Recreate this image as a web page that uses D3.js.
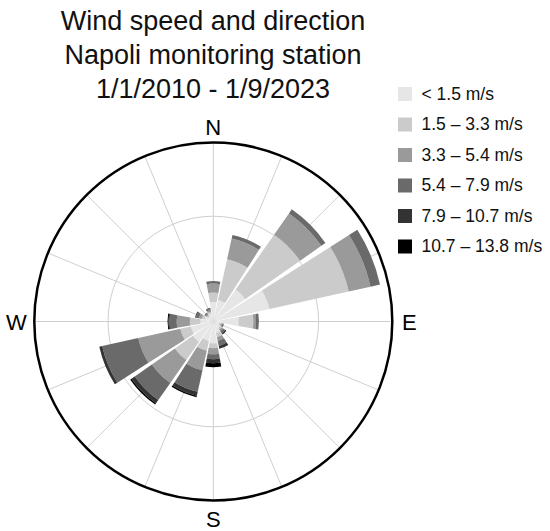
<!DOCTYPE html>
<html lang="en">
<head>
<meta charset="UTF-8">
<title>Wind rose</title>
<script src="https://cdn.jsdelivr.net/npm/d3@7"></script>
<style>
	body{margin:0;background:#fff;}
	svg{display:block;font-family:"Liberation Sans",Arial,sans-serif;}
</style>
</head>
<body>
<svg id="chart" width="550" height="531"></svg>
<script>
var titleLines = ["Wind speed and direction", "Napoli monitoring station", "1/1/2010 - 1/9/2023"];
var directions = ["N","NNE","NE","ENE","E","ESE","SE","SSE","S","SSW","SW","WSW","W","WNW","NW","NNW"];
var compass = ["N","E","S","W"];
var speedClasses = ["< 1.5 m/s","1.5 \u2013 3.3 m/s","3.3 \u2013 5.4 m/s","5.4 \u2013 7.9 m/s","7.9 \u2013 10.7 m/s","10.7 \u2013 13.8 m/s"];
var classColors = ["#e6e6e6","#cbcbcb","#9a9a9a","#6a6a6a","#333333","#000000"];

// frequency (%) per direction, one array per speed class
var below15 = [1.85,2.09,3.70,5.46,2.42,0.57,0.76,1.14,2.07,1.90,2.37,2.18,1.23,0.85,0.57,0.76];
var s15to33 = [0.90,3.96,6.36,7.71,1.38,0.19,0.19,0.38,0.47,0.95,2.09,1.04,1.00,0.28,0.19,0.19];
var s33to54 = [0.85,2.02,2.47,2.12,0.26,0.14,0.19,0.38,0.57,1.90,2.66,4.08,1.25,0.28,0.14,0.19];
var s54to79 = [0.24,0.35,0.47,0.93,0.28,0.14,0.24,0.47,0.47,2.09,1.99,3.51,0.69,0.28,0.14,0.14];
var s79to107 = [0,0,0,0,0,0,0.14,0.28,0.38,0.38,0.38,0.28,0.09,0.09,0,0.05];
var s107to138 = [0,0,0,0,0,0,0,0,0.38,0.14,0.14,0,0.09,0,0,0];
var gridValues = [10];
var maxValue = 17;

var series = [below15, s15to33, s33to54, s54to79, s79to107, s107to138];
var rows = directions.map(function(d, i){
	var o = {dir: d};
	series.forEach(function(s, k){ o["c" + k] = s[i]; });
	return o;
});
var keys = series.map(function(s, k){ return "c" + k; });

var svg = d3.select("#chart");
var cx = 213.3, cy = 321.5, R = 179;

var r = d3.scaleLinear().domain([0, maxValue]).range([0, R]);
var step = 2 * Math.PI / directions.length;
var pad = 0.11;
var x = d3.scaleBand()
	.domain(directions)
	.range([-step / 2, 2 * Math.PI - step / 2])
	.paddingInner(pad)
	.paddingOuter(pad / 2);

var g = svg.append("g").attr("transform", "translate(" + cx + "," + cy + ")");

// grid
g.selectAll(".spoke").data(directions).enter().append("line")
	.attr("x1", 0).attr("y1", 0)
	.attr("x2", function(d, i){ return R * Math.sin(i * step); })
	.attr("y2", function(d, i){ return -R * Math.cos(i * step); })
	.attr("stroke", "#cfcfcf").attr("stroke-width", 1);
g.selectAll(".ring").data(gridValues).enter().append("circle")
	.attr("r", function(d){ return r(d); })
	.attr("fill", "none").attr("stroke", "#cfcfcf").attr("stroke-width", 1);

// bars
var stacked = d3.stack().keys(keys)(rows);
var arc = d3.arc()
	.innerRadius(function(d){ return r(d[0]); })
	.outerRadius(function(d){ return r(d[1]); })
	.startAngle(function(d){ return x(d.data.dir); })
	.endAngle(function(d){ return x(d.data.dir) + x.bandwidth(); });

g.selectAll(".layer").data(stacked).enter().append("g")
	.attr("fill", function(d, i){ return classColors[i]; })
	.selectAll("path").data(function(d){ return d.filter(function(p){ return p[1] > p[0]; }); })
	.enter().append("path")
	.attr("d", arc);

// outer circle
g.append("circle").attr("r", R)
	.attr("fill", "none").attr("stroke", "#000").attr("stroke-width", 2.5);

// compass labels
var labelPos = [[0, -R - 8], [R + 17, 8], [0, R + 26], [-R - 18, 8]];
g.selectAll(".compass").data(compass).enter().append("text")
	.attr("x", function(d, i){ return labelPos[i][0]; })
	.attr("y", function(d, i){ return labelPos[i][1]; })
	.attr("text-anchor", "middle")
	.attr("font-size", 22)
	.attr("fill", "#000")
	.text(function(d){ return d; });

// title
svg.selectAll(".title").data(titleLines).enter().append("text")
	.attr("x", 213)
	.attr("y", function(d, i){ return 30 + i * 34; })
	.attr("text-anchor", "middle")
	.attr("font-size", 27)
	.attr("fill", "#111")
	.text(function(d){ return d; });

// legend
var legend = svg.append("g").attr("transform", "translate(398,87)");
var items = legend.selectAll(".item").data(speedClasses).enter().append("g")
	.attr("transform", function(d, i){ return "translate(0," + (i * 30.5) + ")"; });
items.append("rect").attr("width", 14).attr("height", 14)
	.attr("fill", function(d, i){ return classColors[i]; });
items.append("text").attr("x", 23.5).attr("y", 12.5)
	.attr("font-size", 17.5).attr("fill", "#111")
	.text(function(d){ return d; });
</script>
</body>
</html>
